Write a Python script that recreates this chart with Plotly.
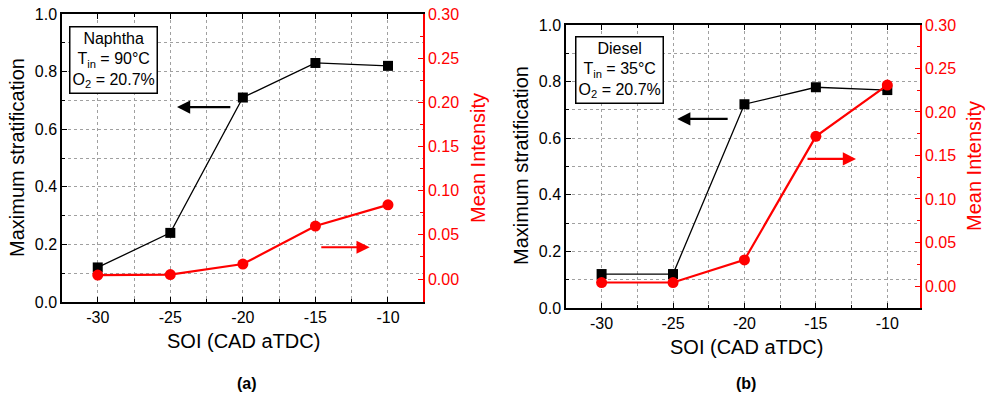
import plotly.graph_objects as go

soi = [-30, -25, -20, -15, -10]
strat_a = [0.12, 0.24, 0.71, 0.83, 0.82]
inten_a = [0.0045, 0.005, 0.017, 0.060, 0.084]
strat_b = [0.12, 0.12, 0.72, 0.78, 0.77]
inten_b = [0.004, 0.004, 0.030, 0.172, 0.231]

FONT = "Liberation Sans, Arial, sans-serif"
RED = "#ff0000"
GRID = "#a0a0a0"

fig = go.Figure()

def add_panel(xa, ya, ya2, strat, inten):
    fig.add_trace(go.Scatter(x=soi, y=strat, xaxis=xa, yaxis=ya, mode="lines+markers",
                             line=dict(color="black", width=1.3),
                             marker=dict(symbol="square", size=10, color="black"),
                             showlegend=False))
    fig.add_trace(go.Scatter(x=soi, y=inten, xaxis=xa, yaxis=ya2, mode="lines+markers",
                             line=dict(color=RED, width=2.2),
                             marker=dict(symbol="circle", size=11, color=RED),
                             showlegend=False))

add_panel("x", "y", "y2", strat_a, inten_a)
add_panel("x2", "y3", "y4", strat_b, inten_b)

def xaxis_cfg(domain, rng, anchor):
    return dict(domain=domain, range=rng, anchor=anchor, automargin=False,
                tickvals=soi, ticktext=[str(v) for v in soi],
                ticks="inside", ticklen=5, tickcolor="black",
                showline=True, linecolor="black", linewidth=1.5, mirror="ticks",
                showgrid=True, gridcolor=GRID, griddash="dot", gridwidth=1,
                minor=dict(dtick=2.5, tick0=-30, ticks="inside", ticklen=3, tickcolor="black",
                           showgrid=True, gridcolor=GRID, griddash="dot", gridwidth=1),
                tickfont=dict(family=FONT, size=16, color="black"),
                zeroline=False)

def yaxis_cfg(domain, anchor):
    return dict(domain=domain, range=[0, 1.0], anchor=anchor, automargin=False,
                tick0=0, dtick=0.2, tickformat=".1f",
                ticks="inside", ticklen=5, tickcolor="black",
                showline=True, linecolor="black", linewidth=1.5, mirror=False,
                showgrid=True, gridcolor=GRID, griddash="dot", gridwidth=1,
                minor=dict(dtick=0.1, ticks="inside", ticklen=3, tickcolor="black",
                           showgrid=True, gridcolor=GRID, griddash="dot", gridwidth=1),
                tickfont=dict(family=FONT, size=16, color="black"),
                zeroline=False)

def y2_cfg(overlay, anchor, rng):
    return dict(overlaying=overlay, side="right", anchor=anchor, range=rng, automargin=False,
                tick0=0, dtick=0.05, tickformat=".2f",
                ticks="inside", ticklen=5, tickcolor=RED,
                showline=True, linecolor=RED, linewidth=1.5,
                showgrid=False, zeroline=False,
                minor=dict(dtick=0.025, ticks="inside", ticklen=3, tickcolor=RED),
                tickfont=dict(family=FONT, size=16, color=RED))

fig.update_layout(
    width=988, height=398, margin=dict(l=0, r=0, t=0, b=0, autoexpand=False),
    paper_bgcolor="white", plot_bgcolor="white",
    font=dict(family=FONT, color="black"),
    xaxis=xaxis_cfg([0.0628, 0.4281], [-32.46, -7.59], "y"),
    yaxis=yaxis_cfg([0.2412, 0.9648], "x"),
    yaxis2=y2_cfg("y", "x", [-0.026, 0.30]),
    xaxis2=xaxis_cfg([0.5729, 0.9312], [-32.49, -7.71], "y3"),
    yaxis3=yaxis_cfg([0.2261, 0.9372], "x2"),
    yaxis4=y2_cfg("y3", "x2", [-0.0253, 0.30]),
)

ann = []
C = dict(xref="paper", yref="paper", xanchor="center", yanchor="middle", showarrow=False)
# axis titles
for xc, ycen in [(17, 158), (521, 166)]:
    ann.append(dict(text="Maximum stratification", x=xc / 988, y=1 - ycen / 398, textangle=-90,
                    font=dict(family=FONT, size=20, color="black"), **C))
for xc, ycen in [(478, 158), (974, 166)]:
    ann.append(dict(text="Mean Intensity", x=xc / 988, y=1 - ycen / 398, textangle=-90,
                    font=dict(family=FONT, size=20, color=RED), **C))
for xc, yc in [(243, 341), (746, 347)]:
    ann.append(dict(text="SOI (CAD aTDC)", x=xc / 988, y=1 - yc / 398,
                    font=dict(family=FONT, size=20, color="black"), **C))
for txt, xc in [("<b>(a)</b>", 247), ("<b>(b)</b>", 746)]:
    ann.append(dict(text=txt, x=xc / 988, y=1 - 383 / 398,
                    font=dict(family=FONT, size=16, color="black"), **C))
# info boxes
for txt, xc, yc in [("Naphtha<br>T<sub>in</sub> = 90°C<br>O<sub>2</sub> = 20.7%", 113.5, 60.5),
                    ("Diesel<br>T<sub>in</sub> = 35°C<br>O<sub>2</sub> = 20.7%", 619, 69.5)]:
    ann.append(dict(text=txt, x=xc / 988, y=1 - yc / 398, align="center",
                    bordercolor="black", borderwidth=1.5, borderpad=2, bgcolor="white",
                    font=dict(family=FONT, size=16, color="black"), **C))
# arrows
arrows = [("x", "y", -24.54, -20.76, 0.677, "black"),
          ("x", "y2", -11.26, -14.70, 0.036, RED),
          ("x2", "y3", -24.71, -21.07, 0.668, "black"),
          ("x2", "y4", -12.19, -15.69, 0.146, RED)]
for xr, yr, hx, tx, yv, col in arrows:
    ann.append(dict(text="", x=hx, y=yv, ax=tx, ay=yv, xref=xr, yref=yr, axref=xr, ayref=yr,
                    showarrow=True, arrowhead=2, arrowsize=1.2, arrowwidth=2.2, arrowcolor=col))
fig.update_layout(annotations=ann)

fig.write_html("out.html")
